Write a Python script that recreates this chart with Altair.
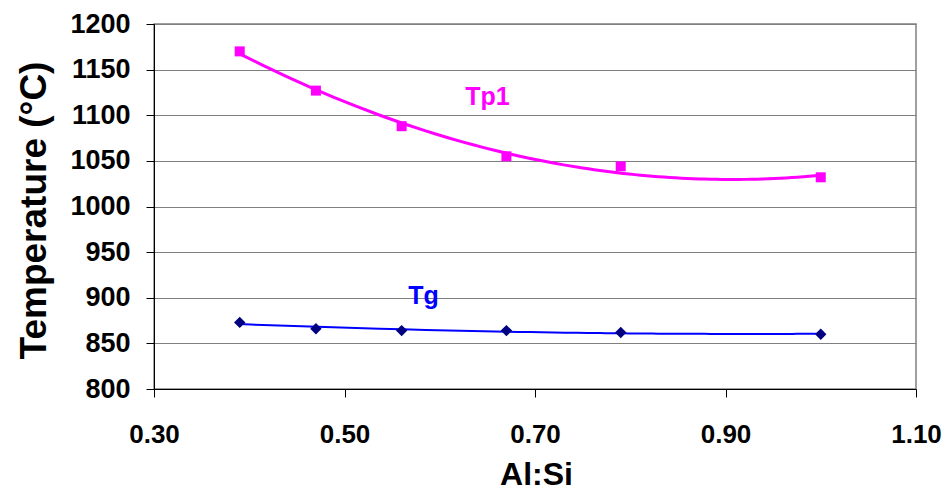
import altair as alt
import pandas as pd

# ---- data ----
al_si = [0.39, 0.47, 0.56, 0.67, 0.79, 1.00]
tp1 = [1170, 1127, 1088, 1055, 1044, 1032]
tg = [873, 866, 864, 864, 862, 860]
label_text = ["Tp1", "Tg"]
label_x = [0.65, 0.583]
label_y = [1120, 902]
label_color = ["#FF00FF", "#0000FF"]
x_ticks = [0.30, 0.50, 0.70, 0.90, 1.10]
y_ticks = [800, 850, 900, 950, 1000, 1050, 1100, 1150, 1200]

df_tp1 = pd.DataFrame({"x": al_si, "y": tp1})
df_tg = pd.DataFrame({"x": al_si, "y": tg})
df_lab = pd.DataFrame({"x": label_x, "y": label_y, "t": label_text, "c": label_color})

FONT = "Liberation Sans"

xs = alt.Scale(domain=[0.3, 1.1], nice=False, zero=False)
ys = alt.Scale(domain=[800, 1200], nice=False, zero=False)

x_enc = alt.X(
    "x:Q", scale=xs,
    axis=alt.Axis(values=x_ticks, format=".2f", title="Al:Si", grid=False,
                  tickSize=8, labelPadding=24, labelFlush=False, labelFontSize=26,
                  titleFontSize=32, titleX=382, titleY=95, titleBaseline="alphabetic"),
)
y_enc = alt.Y(
    "y:Q", scale=ys,
    axis=alt.Axis(values=y_ticks, format="d", title="Temperature (°C)", grid=True,
                  gridColor="#808080", gridWidth=1, tickSize=8, labelPadding=16,
                  labelFlush=False, labelFontSize=27,
                  titleFontSize=37, titleAngle=270, titleX=-120, titleY=186,
                  titleBaseline="middle", titleAlign="center"),
)

tp1_fit = alt.Chart(df_tp1).transform_regression(
    "x", "y", method="poly", order=2
).mark_line(color="#FF00FF", strokeWidth=3).encode(x=x_enc, y=y_enc)

tp1_pts = alt.Chart(df_tp1).mark_point(
    shape="square", filled=True, color="#FF00FF", size=100, opacity=1
).encode(x=x_enc, y=y_enc)

tg_fit = alt.Chart(df_tg).transform_regression(
    "x", "y", method="poly", order=2
).mark_line(color="#0000FF", strokeWidth=2).encode(x=x_enc, y=y_enc)

tg_pts = alt.Chart(df_tg).mark_point(
    shape="diamond", filled=True, color="#000080", size=130, opacity=1
).encode(x=x_enc, y=y_enc)

labels = alt.Chart(df_lab).mark_text(
    font=FONT, fontSize=25, fontWeight="bold", align="center", baseline="middle"
).encode(x=x_enc, y=y_enc, text="t:N", color=alt.Color("c:N", scale=None))

chart = alt.layer(tp1_fit, tg_fit, tg_pts, tp1_pts, labels).properties(
    width=762, height=365,
    autosize=alt.AutoSizeParams(type="none"),
    padding={"left": 146, "top": 16, "right": 26, "bottom": 104},
    background="white",
).configure_axis(
    labelFont=FONT, labelFontWeight="bold", labelColor="black",
    titleFont=FONT, titleFontWeight="bold", titleColor="black",
    domainColor="black", domainWidth=1, tickColor="black", tickWidth=1,
).configure_view(stroke="#808080", strokeWidth=1.5)

chart.save("out.html", embed_options={"renderer": "svg", "actions": False})
